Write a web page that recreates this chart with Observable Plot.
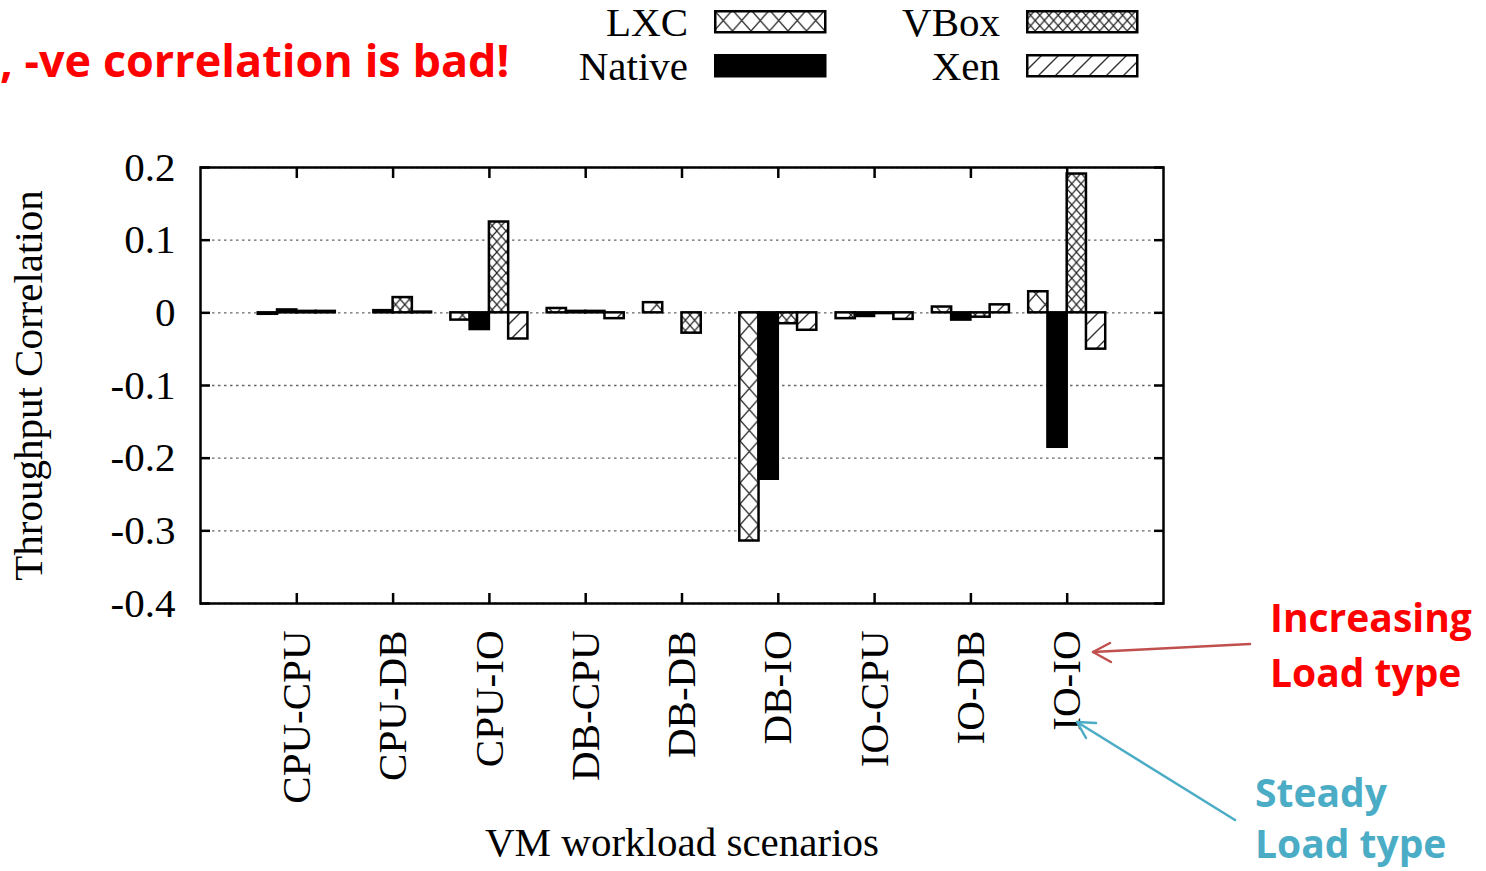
<!DOCTYPE html>
<html>
<head>
<meta charset="utf-8">
<script src="https://cdn.jsdelivr.net/npm/d3@7"></script>
<script src="https://cdn.jsdelivr.net/npm/@observablehq/plot@0.6"></script>
<style>
  html, body { margin: 0; padding: 0; background: #fff; }
  #wrap { position: relative; width: 1486px; height: 871px; overflow: hidden; background: #fff; }
  #chart { position: absolute; left: 0; top: 0; }
  #legend {
    position: absolute; left: 540px; top: 0;
    display: grid; grid-template-rows: 44px 44px; grid-auto-flow: column;
    grid-template-columns: 287px 287px; column-gap: 25px;
    font-family: 'Liberation Serif', 'Times New Roman', serif; font-size: 41px; color: #000;
  }
  #legend .item { display: flex; align-items: center; }
  #legend .lab { width: 148px; text-align: right; margin-right: 26px; line-height: 1; }
  #legend svg { display: block; }
  #notes { position: absolute; left: 0; top: 0; pointer-events: none; }
</style>
</head>
<body>
<div id="wrap">
  <svg width="0" height="0" style="position:absolute">
    <defs>
      <pattern id="p-lxc" patternUnits="userSpaceOnUse" width="18.5" height="21">
        <rect width="18.5" height="21" fill="#fff"/>
        <path d="M0,0L18.5,21M18.5,0L0,21" stroke="#333" stroke-width="1.4" fill="none"/>
      </pattern>
      <pattern id="p-vbox" patternUnits="userSpaceOnUse" width="9.2" height="10.5">
        <rect width="9.2" height="10.5" fill="#fff"/>
        <path d="M0,0L9.2,10.5M9.2,0L0,10.5" stroke="#222" stroke-width="1.2" fill="none"/>
      </pattern>
      <pattern id="p-xen" patternUnits="userSpaceOnUse" width="17" height="17">
        <rect width="17" height="17" fill="#fff"/>
        <path d="M0,17L17,0M-3,3L3,-3M14,20L20,14" stroke="#333" stroke-width="1.4" fill="none"/>
      </pattern>
    </defs>
  </svg>
  <div id="chart"></div>
  <div id="legend"></div>
  <svg id="notes" width="1486" height="871">
    <text x="0" y="77" fill="#FF0000" font-family="'Open Sans', Lato, sans-serif" font-weight="bold" font-size="45">, -ve correlation is bad!</text>
    <text x="1270" y="632" fill="#FF0000" font-family="'Open Sans', Lato, sans-serif" font-weight="bold" font-size="39">Increasing</text>
    <text x="1270" y="687" fill="#FF0000" font-family="'Open Sans', Lato, sans-serif" font-weight="bold" font-size="39">Load type</text>
    <text x="1255" y="807" fill="#4BACC6" font-family="'Open Sans', Lato, sans-serif" font-weight="bold" font-size="39">Steady</text>
    <text x="1255" y="858" fill="#4BACC6" font-family="'Open Sans', Lato, sans-serif" font-weight="bold" font-size="39">Load type</text>
    <g fill="none" stroke="#C0504D" stroke-width="2.5" stroke-linecap="round" stroke-linejoin="round">
      <path d="M1250,644L1093,652"/>
      <path d="M1110,643L1093,652L1111,662"/>
    </g>
    <g fill="none" stroke="#4BACC6" stroke-width="2.5" stroke-linecap="round" stroke-linejoin="round">
      <path d="M1235,820L1077,722"/>
      <path d="M1096,723L1077,722L1086,738"/>
    </g>
  </svg>
</div>
<script>
const categories = ["CPU-CPU", "CPU-DB", "CPU-IO", "DB-CPU", "DB-DB", "DB-IO", "IO-CPU", "IO-DB", "IO-IO"];
const seriesNames = ["LXC", "Native", "VBox", "Xen"];
const lxcValues    = [-0.002, 0.000, -0.010,  0.006,  0.014, -0.314, -0.008,  0.008,  0.029];
const nativeValues = [ 0.004, 0.003, -0.023,  0.002,  0.000, -0.229, -0.005, -0.010, -0.185];
const vboxValues   = [ 0.002, 0.021,  0.125,  0.002, -0.028, -0.015, -0.001, -0.006,  0.191];
const xenValues    = [ 0.002, 0.001, -0.036, -0.008,  0.000, -0.024, -0.009,  0.011, -0.050];
const yTicks = [-0.4, -0.3, -0.2, -0.1, 0, 0.1, 0.2];

const seriesFill = {LXC: "url(#p-lxc)", Native: "#000", VBox: "url(#p-vbox)", Xen: "url(#p-xen)"};
const valuesBySeries = {LXC: lxcValues, Native: nativeValues, VBox: vboxValues, Xen: xenValues};

// category k sits at x = k + 1 on a linear scale [0, 10]; each group is 0.8 units wide, split among the series
const groupWidth = 0.8;
const barWidth = groupWidth / seriesNames.length;
const rows = categories.flatMap((c, i) => seriesNames.map((s, j) => ({
  category: c, series: s, value: valuesBySeries[s][i],
  x1: i + 1 - groupWidth / 2 + j * barWidth,
  x2: i + 1 - groupWidth / 2 + (j + 1) * barWidth
})));
const xTicks = categories.map((c, i) => i + 1);

const serif = "'Liberation Serif', 'Times New Roman', serif";
const chart = Plot.plot({
  width: 1486, height: 871,
  marginTop: 167, marginRight: 323, marginBottom: 268, marginLeft: 200,
  style: {fontFamily: serif, fontSize: "41px", color: "#000", background: "transparent", overflow: "visible"},
  x: {domain: [0, categories.length + 1]},
  y: {domain: [-0.4, 0.2]},
  color: {type: "identity"},
  marks: [
    Plot.gridY(yTicks, {stroke: "#666", strokeOpacity: 1, strokeWidth: 1.3, strokeDasharray: "2.5,3.5"}),
    Plot.rect(rows, {x1: "x1", x2: "x2", y1: 0, y2: "value", fill: d => seriesFill[d.series], stroke: "#000", strokeWidth: 2.5}),
    Plot.frame({stroke: "#000", strokeWidth: 2.5}),
    Plot.axisY(yTicks, {anchor: "left", tickSize: 0, tickPadding: 25, tickFormat: d => String(d),
      label: "Throughput Correlation", labelAnchor: "center", labelArrow: "none", labelOffset: 188}),
    Plot.axisY(yTicks, {anchor: "left", tickSize: -10, strokeWidth: 2.5, tickFormat: () => "", label: null}),
    Plot.axisY(yTicks, {anchor: "right", tickSize: -10, strokeWidth: 2.5, tickFormat: () => "", label: null}),
    Plot.axisX(xTicks, {anchor: "bottom", tickSize: 0, tickPadding: 27, tickRotate: -90, tickFormat: k => categories[k - 1],
      label: "VM workload scenarios", labelAnchor: "center", labelArrow: "none", labelOffset: 252}),
    Plot.axisX(xTicks, {anchor: "bottom", tickSize: -10, strokeWidth: 2.5, tickFormat: () => "", label: null}),
    Plot.axisX(xTicks, {anchor: "top", tickSize: -10, strokeWidth: 2.5, tickFormat: () => "", label: null})
  ]
});
document.getElementById("chart").appendChild(chart);

const legend = document.getElementById("legend");
for (const s of seriesNames) {
  const item = document.createElement("div");
  item.className = "item";
  item.innerHTML = `<span class="lab">${s}</span><svg width="113" height="24"><rect x="1.25" y="1.25" width="110" height="21" fill="${seriesFill[s]}" stroke="#000" stroke-width="2.5"/></svg>`;
  legend.appendChild(item);
}
</script>
</body>
</html>
